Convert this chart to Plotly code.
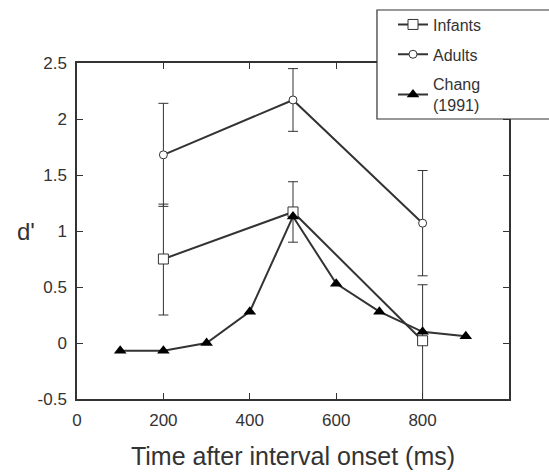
import plotly.graph_objects as go

# Data
infant_x = [200, 500, 800]
infant_y = [0.75, 1.17, 0.02]
infant_err_plus = [0.49, 0.27, 0.50]
infant_err_minus = [0.50, 0.27, 0.60]

adult_x = [200, 500, 800]
adult_y = [1.68, 2.17, 1.07]
adult_err = [0.46, 0.28, 0.47]

chang_x = [100, 200, 300, 400, 500, 600, 700, 800, 900]
chang_y = [-0.07, -0.07, 0.0, 0.28, 1.13, 0.53, 0.28, 0.10, 0.06]

x_ticks = [0, 200, 400, 600, 800]
y_ticks = [-0.5, 0, 0.5, 1, 1.5, 2, 2.5]
y_tick_text = ["-0.5", "0", "0.5", "1", "1.5", "2", "2.5"]

LINE = "#333333"
TEXT = "#333333"
FONT = "Liberation Sans, Arial, Helvetica, sans-serif"

fig = go.Figure()

fig.add_trace(go.Scatter(
    x=infant_x, y=infant_y, name="Infants", mode="lines+markers",
    line=dict(color=LINE, width=2),
    marker=dict(symbol="square", size=10, color="white", line=dict(color=LINE, width=1)),
    error_y=dict(type="data", symmetric=False, array=infant_err_plus, arrayminus=infant_err_minus,
                 color=LINE, thickness=1, width=5),
    legendgroup="a",
))
fig.add_trace(go.Scatter(
    x=adult_x, y=adult_y, name="Adults", mode="lines+markers",
    line=dict(color=LINE, width=2),
    marker=dict(symbol="circle", size=8, color="white", line=dict(color=LINE, width=1)),
    error_y=dict(type="data", array=adult_err, color=LINE, thickness=1, width=5),
    legendgroup="b",
))
fig.add_trace(go.Scatter(
    x=chang_x, y=chang_y, name="Chang<br>(1991)", mode="lines+markers",
    line=dict(color=LINE, width=2),
    marker=dict(symbol="triangle-up", size=11, color="black", line=dict(color="black", width=0)),
    legendgroup="c",
))

axis_common = dict(
    showline=True, linecolor=LINE, linewidth=1.5, mirror="ticks",
    ticks="inside", ticklen=6, tickcolor=LINE, tickwidth=1,
    showgrid=False, zeroline=False,
    tickfont=dict(family=FONT, size=17, color=TEXT),
)

fig.update_xaxes(range=[0, 1000], tickvals=x_ticks, ticktext=[str(v) for v in x_ticks],
                 ticklabelstandoff=5,
                 title=dict(text="Time after interval onset (ms)", font=dict(family=FONT, size=25, color=TEXT),
                            standoff=18),
                 **axis_common)
fig.update_yaxes(range=[-0.5, 2.5], tickvals=y_ticks, ticktext=y_tick_text,
                 ticklabelstandoff=5, **axis_common)

fig.add_annotation(text="d'", xref="paper", yref="y", x=-0.093, y=1.0, showarrow=False,
                   xanchor="right", font=dict(family=FONT, size=24, color=TEXT))

# legend frame (extends past the right edge like the original)
fig.add_shape(type="rect", xref="paper", yref="paper", x0=0.6944, x1=1.15, y0=0.8333, y1=1.1577,
              line=dict(color=LINE, width=1.2), fillcolor="white", layer="above")

fig.update_layout(
    width=549, height=475,
    margin=dict(l=77, r=40, t=63, b=76, autoexpand=False),
    plot_bgcolor="white", paper_bgcolor="white",
    showlegend=True,
    legend=dict(x=0.7315, y=1.165, xanchor="left", yanchor="top",
                bgcolor="rgba(0,0,0,0)", borderwidth=0,
                font=dict(family=FONT, size=16, color=TEXT),
                tracegroupgap=6),
)

fig.write_html("out.html")
